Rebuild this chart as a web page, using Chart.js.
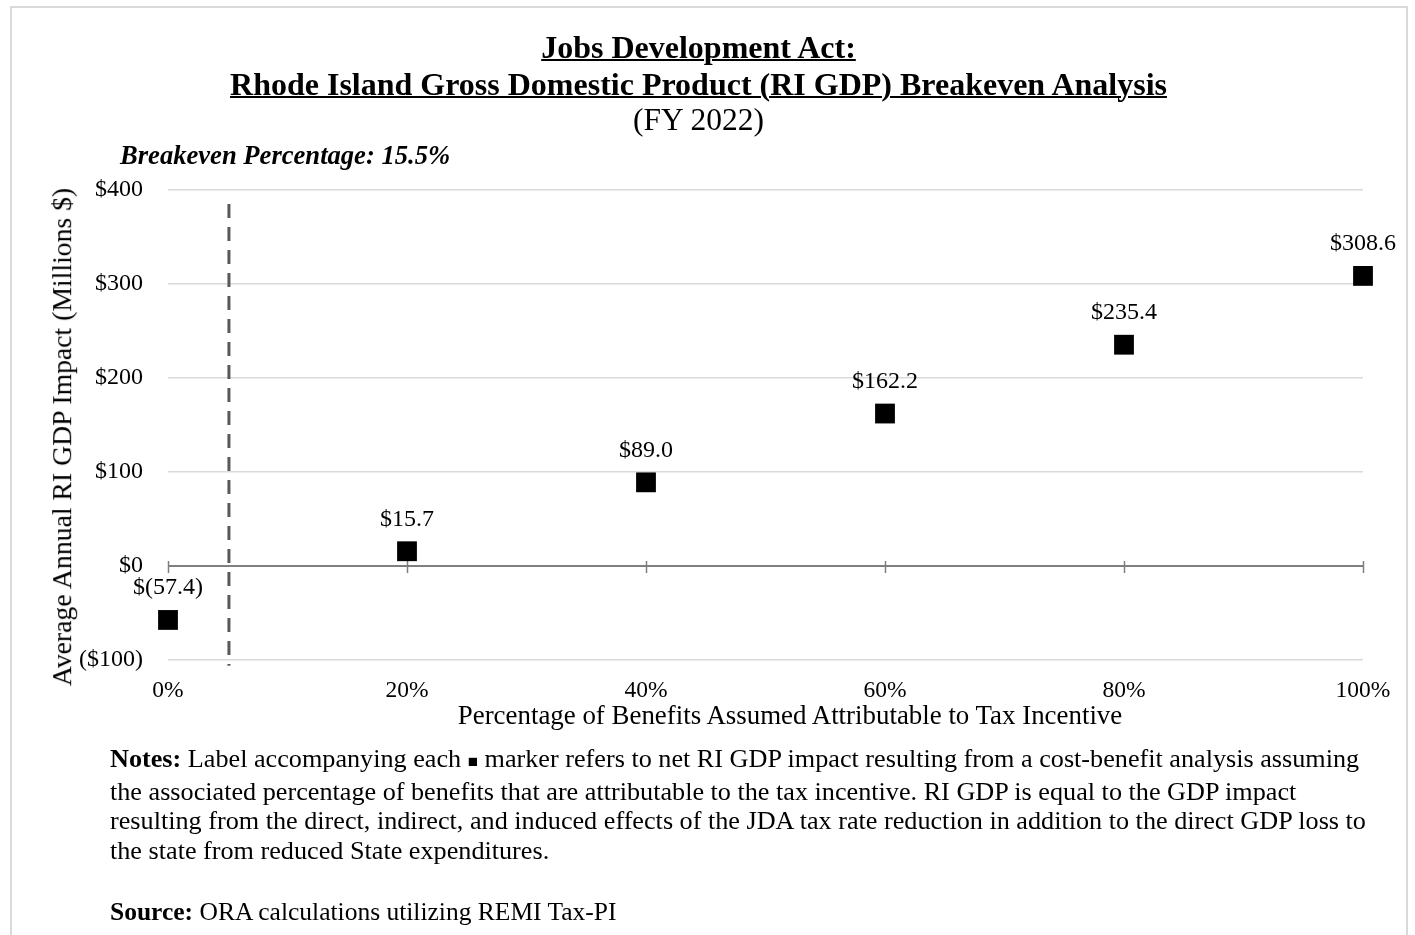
<!DOCTYPE html>
<html>
<head>
<meta charset="utf-8">
<script src="https://cdn.jsdelivr.net/npm/chart.js@4"></script>
<style>
  html, body { margin:0; padding:0; background:#fff; }
  body { width:1415px; height:935px; position:relative; overflow:hidden; font-family:"Liberation Serif","Times New Roman",serif; color:#000; }
  #frame { position:absolute; left:10px; top:6px; width:1398px; height:1000px; border:2px solid #d9d9d9; box-sizing:border-box; }
  #wrap { position:absolute; left:0; top:0; width:1415px; height:935px; }
  .t { position:absolute; white-space:nowrap; }
  #t1, #t2 { font-weight:bold; text-decoration:underline; text-decoration-thickness:2px; font-size:32px; line-height:32px; left:0; width:1397px; text-align:center; }
  #t1 { top:31px; }
  #t2 { top:68px; }
  #t3 { top:104px; font-size:31.5px; line-height:31.5px; left:0; width:1397px; text-align:center; }
  #be { left:120px; top:142px; font-size:26.6px; line-height:26.6px; font-weight:bold; font-style:italic; }
  #ytitle { left:62px; top:437px; font-size:27.7px; line-height:27.7px; transform:translate(-50%,-50%) rotate(-90deg); }
  #xtitle { left:790px; top:715px; font-size:26.9px; line-height:26.9px; transform:translate(-50%,-50%); }
  #notes { left:110px; top:744px; font-size:26.2px; line-height:29.6px; }
  #source { left:110px; top:897px; font-size:25.5px; line-height:29.6px; }
</style>
</head>
<body>
<div id="frame"></div>
<div id="wrap"><canvas id="c" width="1415" height="935"></canvas></div>
<div class="t" id="t1">Jobs Development Act:</div>
<div class="t" id="t2">Rhode Island Gross Domestic Product (RI GDP) Breakeven Analysis</div>
<div class="t" id="t3">(FY 2022)</div>
<div class="t" id="be">Breakeven Percentage: 15.5%</div>
<div class="t" id="ytitle">Average Annual RI GDP Impact (Millions $)</div>
<div class="t" id="xtitle">Percentage of Benefits Assumed Attributable to Tax Incentive</div>
<div class="t" id="notes"><b>Notes:</b> Label accompanying each <span style="font-size:17px">■</span> marker refers to net RI GDP impact resulting from a cost-benefit analysis assuming<br>the associated percentage of benefits that are attributable to the tax incentive. RI GDP is equal to the GDP impact<br>resulting from the direct, indirect, and induced effects of the JDA tax rate reduction in addition to the direct GDP loss to<br>the state from reduced State expenditures.</div>
<div class="t" id="source"><b>Source:</b> ORA calculations utilizing REMI Tax-PI</div>
<script>
// ---- data ----
const benefitPct = [0, 20, 40, 60, 80, 100];
const gdpImpact = [-57.4, 15.7, 89.0, 162.2, 235.4, 308.6];
const xTicks = [0, 20, 40, 60, 80, 100];
const yTicks = [-100, 0, 100, 200, 300, 400];
const breakevenLineX = [5.1, 5.1];
const breakevenLineY = [385, -106];

function fmtLabel(v) {
  return v < 0 ? '$(' + Math.abs(v).toFixed(1) + ')' : '$' + v.toFixed(1);
}
function fmtTick(v) {
  return v < 0 ? '($' + Math.abs(v) + ')' : '$' + v;
}

const FONT = '"Liberation Serif","Times New Roman",serif';

const labelPlugin = {
  id: 'labels',
  afterDatasetsDraw(chart) {
    const meta = chart.getDatasetMeta(1);
    const ctx = chart.ctx;
    ctx.save();
    ctx.font = '24px ' + FONT;
    ctx.fillStyle = '#000';
    ctx.textAlign = 'center';
    ctx.textBaseline = 'middle';
    meta.data.forEach((el, i) => {
      ctx.fillText(fmtLabel(gdpImpact[i]), el.x, el.y - 32);
    });
    ctx.restore();
  }
};

const zeroTicksPlugin = {
  id: 'zeroTicks',
  beforeDatasetsDraw(chart) {
    const xs = chart.scales.x, ys = chart.scales.y;
    const y0 = ys.getPixelForValue(0);
    const ctx = chart.ctx;
    ctx.save();
    ctx.strokeStyle = '#7f7f7f';
    ctx.lineWidth = 1.5;
    xTicks.forEach(v => {
      const x = Math.round(xs.getPixelForValue(v)) + 0.5;
      ctx.beginPath();
      ctx.moveTo(x, y0 - 5);
      ctx.lineTo(x, y0 + 7);
      ctx.stroke();
    });
    ctx.restore();
  }
};

new Chart(document.getElementById('c'), {
  type: 'scatter',
  data: {
    datasets: [
      {
        type: 'line',
        data: breakevenLineX.map((x, i) => ({ x: x, y: breakevenLineY[i] })),
        borderColor: '#595959',
        borderWidth: 3,
        borderDash: [14, 9],
        pointRadius: 0,
        clip: false,
        order: 2
      },
      {
        data: benefitPct.map((x, i) => ({ x: x, y: gdpImpact[i] })),
        pointStyle: 'rect',
        pointRadius: 14,
        pointHoverRadius: 14,
        backgroundColor: '#000',
        borderColor: '#000',
        borderWidth: 0,
        clip: false,
        order: 1
      }
    ]
  },
  options: {
    responsive: false,
    animation: false,
    devicePixelRatio: 1,
    layout: { padding: { left: 0, top: 190, right: 52, bottom: 235 } },
    plugins: { legend: { display: false }, tooltip: { enabled: false } },
    scales: {
      x: {
        type: 'linear',
        min: 0, max: 100,
        afterBuildTicks: s => { s.ticks = xTicks.map(v => ({ value: v })); },
        afterFit: s => { s.height = 40; },
        grid: { display: false, drawTicks: false },
        border: { display: false },
        ticks: {
          padding: 17,
          color: '#000',
          font: { family: FONT, size: 23.5 },
          callback: v => v + '%',
          maxRotation: 0
        }
      },
      y: {
        type: 'linear',
        min: -100, max: 400,
        afterBuildTicks: s => { s.ticks = yTicks.map(v => ({ value: v })); },
        afterFit: s => { s.width = 168; },
        grid: {
          drawTicks: false,
          color: c => c.tick && c.tick.value === 0 ? '#7f7f7f' : '#d9d9d9',
          lineWidth: c => c.tick && c.tick.value === 0 ? 2 : 1.5
        },
        border: { display: false },
        ticks: {
          padding: 25,
          color: '#000',
          font: { family: FONT, size: 24 },
          callback: v => fmtTick(v)
        }
      }
    }
  },
  plugins: [labelPlugin, zeroTicksPlugin]
});
</script>
</body>
</html>
